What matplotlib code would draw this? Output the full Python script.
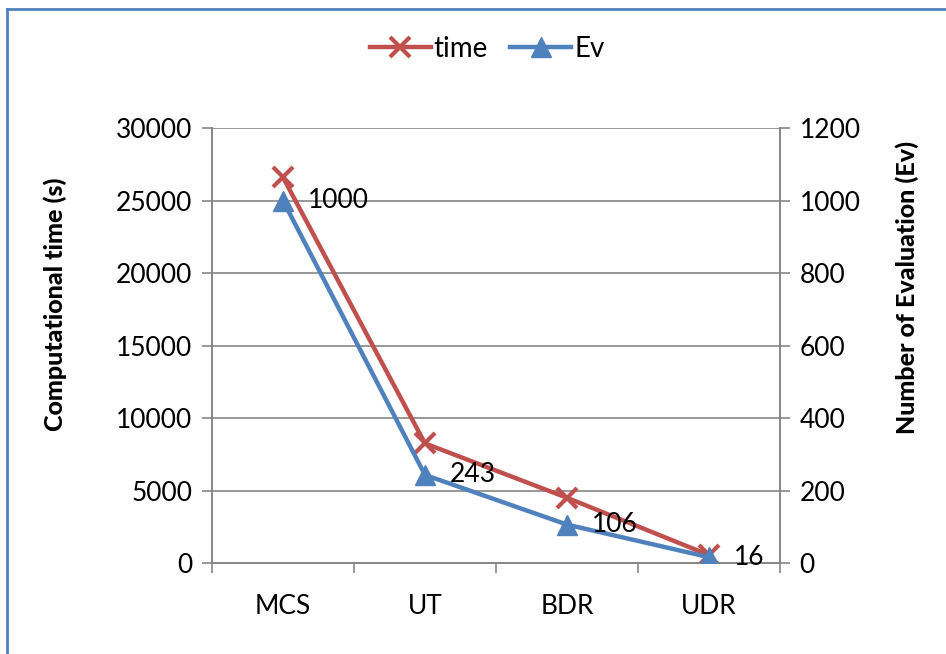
import matplotlib.pyplot as plt
from matplotlib.lines import Line2D
import numpy as np

plt.rcParams['font.family'] = ['Lato', 'DejaVu Sans']

# data
methods = ['MCS', 'UT', 'BDR', 'UDR']
time_s = [26600, 8250, 4500, 550]
ev = [1000, 243, 106, 16]

red = '#C0504D'
blue = '#4F81BD'
grey = '#868686'

fig = plt.figure(figsize=(9.46, 6.54), dpi=100)
ax = fig.add_axes([0.2241, 0.1391, 0.6004, 0.6651])
ax2 = ax.twinx()

x = np.arange(len(methods))
l1, = ax.plot(x, time_s, color=red, lw=3.2, marker='x', ms=15, mew=3, zorder=3)
l2, = ax2.plot(x, ev, color=blue, lw=3.2, marker='^', ms=14, zorder=3)

for xi, v in zip(x, ev):
    ax2.annotate(str(v), (xi, v), xytext=(18, 0), textcoords='offset points',
                 fontsize=19, va='center', ha='left')

ax.set_xlim(-0.5, 3.5)
ax.set_ylim(0, 30000)
ax2.set_ylim(0, 1200)
ax.set_yticks(np.arange(0, 30001, 5000))
ax2.set_yticks(np.arange(0, 1201, 200))
ax.set_xticks(x)
ax.set_xticklabels(methods)
ax.set_xticks(np.arange(-0.5, 4, 1), minor=True)
ax.tick_params(axis='x', which='major', length=0, pad=22, labelsize=19)
ax.tick_params(axis='x', which='minor', length=7, color=grey, width=1.2)
ax.tick_params(axis='y', length=7, color=grey, width=1.2, labelsize=19, pad=7)
ax2.tick_params(axis='y', length=7, color=grey, width=1.2, labelsize=19, pad=7)
ax.yaxis.grid(True, color=grey, lw=1.2)
ax.set_axisbelow(True)

for a in (ax, ax2):
    a.spines['top'].set_visible(False)
    for s in ('left', 'right', 'bottom'):
        a.spines[s].set_color(grey)
        a.spines[s].set_linewidth(1.2)

ax.set_ylabel('Computational time (s)', fontsize=18, fontweight='black', va='center')
ax2.set_ylabel('Number of Evaluation (Ev)', fontsize=18, fontweight='black', va='center')
ax.yaxis.set_label_coords(-0.276, 0.595)
ax2.yaxis.set_label_coords(1.224, 0.634)

fig.legend([l1, l2], ['time', 'Ev'], loc='center', bbox_to_anchor=(0.515, 0.925),
           ncol=2, frameon=False, fontsize=20, handlelength=2.2,
           handletextpad=0.1, columnspacing=0.8)

# outer chart border (only top and left visible)
fig.add_artist(Line2D([6.5 / 946, 1], [1 - 8.5 / 654] * 2, color=blue, lw=2,
                      transform=fig.transFigure))
fig.add_artist(Line2D([6.5 / 946] * 2, [0, 1 - 8.5 / 654], color=blue, lw=2,
                      transform=fig.transFigure))

fig.savefig('out.png', dpi=100)
